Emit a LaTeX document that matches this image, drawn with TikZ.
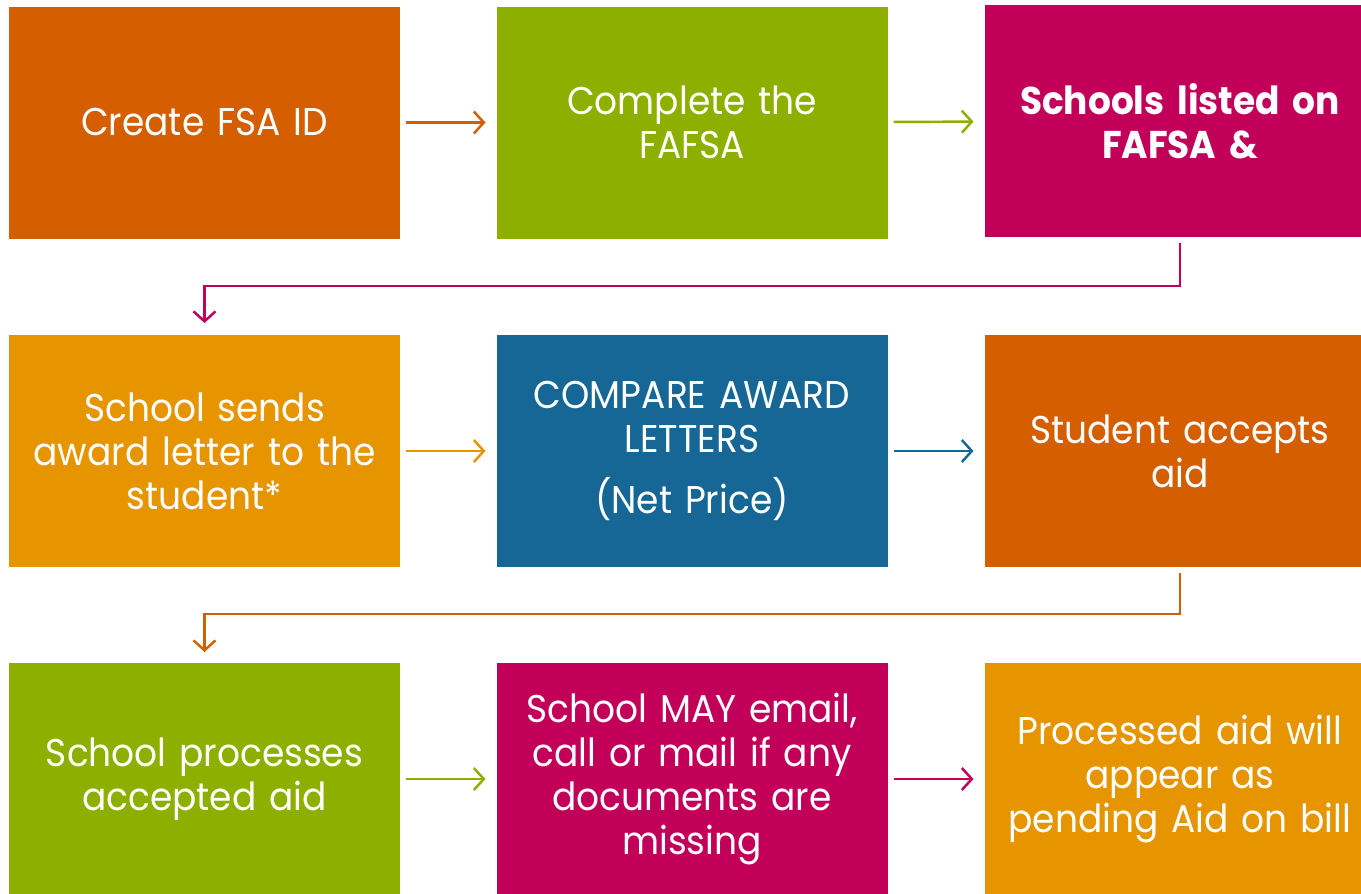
\documentclass[tikz,border=0pt]{standalone}
\usepackage{fontspec}
\setmainfont{Poppins}[FakeStretch=0.93]
\usetikzlibrary{positioning,arrows.meta}
\definecolor{step-orange}{HTML}{D55E00}
\definecolor{step-green}{HTML}{8DB000}
\definecolor{step-magenta}{HTML}{C2005A}
\definecolor{step-gold}{HTML}{E69400}
\definecolor{step-blue}{HTML}{176796}

\tikzset{
	stepbox/.style={rectangle, minimum width=7.82cm, minimum height=4.64cm, text width=7.4cm,
		align=center, text=white, inner sep=0pt, outer sep=0pt,
		font=\fontsize{22}{25}\selectfont},
	flow/.style={arrows=->, line width=1.4pt},
	>={Straight Barb[length=0.2cm,width=0.44cm]}
}

\begin{document}
\begin{tikzpicture}
	\useasboundingbox (0, 0) rectangle (27.22, -17.86);
	\clip (0, 0) rectangle (27.22, -17.86);

	% first row
	\node[stepbox,fill=step-orange] (fsaid) at (4.09, -2.45) {Create FSA ID};
	\node[stepbox,fill=step-green] (fafsa) at (13.84, -2.45) {Complete the\\FAFSA};
	\node[stepbox,fill=step-magenta,font=\fontsize{22}{25}\selectfont\bfseries] (listed) at (23.6, -2.42) {Schools listed on\\FAFSA \&};

	% second row
	\node[stepbox,fill=step-gold] (sends) at (4.09, -9.02) {School sends\\award letter to the\\student*};
	\node[stepbox,fill=step-blue] (compare) at (13.84, -9.02) {COMPARE AWARD\\LETTERS\\[0.35cm](Net Price)};
	\node[stepbox,fill=step-orange] (accepts) at (23.6, -9.02) {Student accepts\\aid};

	% third row
	\node[stepbox,fill=step-green] (processes) at (4.09, -15.58) {School processes\\accepted aid};
	\node[stepbox,fill=step-magenta] (missing) at (13.84, -15.58) {School MAY email,\\call or mail if any\\documents are\\missing};
	\node[stepbox,fill=step-gold] (pending) at (23.6, -15.58) {Processed aid will\\appear as\\pending Aid on bill};

	% horizontal connectors
	\draw[flow,step-orange,shorten <=0.12cm,shorten >=0.22cm] (fsaid) -- (fafsa);
	\draw[flow,step-green,shorten <=0.12cm,shorten >=0.22cm] (fafsa) -- (listed);
	\draw[flow,step-gold,shorten <=0.12cm,shorten >=0.22cm] (sends) -- (compare);
	\draw[flow,step-blue,shorten <=0.12cm,shorten >=0.22cm] (compare) -- (accepts);
	\draw[flow,step-green,shorten <=0.12cm,shorten >=0.22cm] (processes) -- (missing);
	\draw[flow,step-magenta,shorten <=0.12cm,shorten >=0.22cm] (missing) -- (pending);

	% row breaks
	\coordinate (bend1) at (0, -5.72);
	\coordinate (bend2) at (0, -12.28);
	\draw[flow,step-magenta,shorten <=0.12cm,shorten >=0.24cm] (listed.south) -- (listed.south |- bend1) -| (sends.north);
	\draw[flow,step-orange,shorten <=0.12cm,shorten >=0.22cm] (accepts.south) -- (accepts.south |- bend2) -| (processes.north);
\end{tikzpicture}
\end{document}
